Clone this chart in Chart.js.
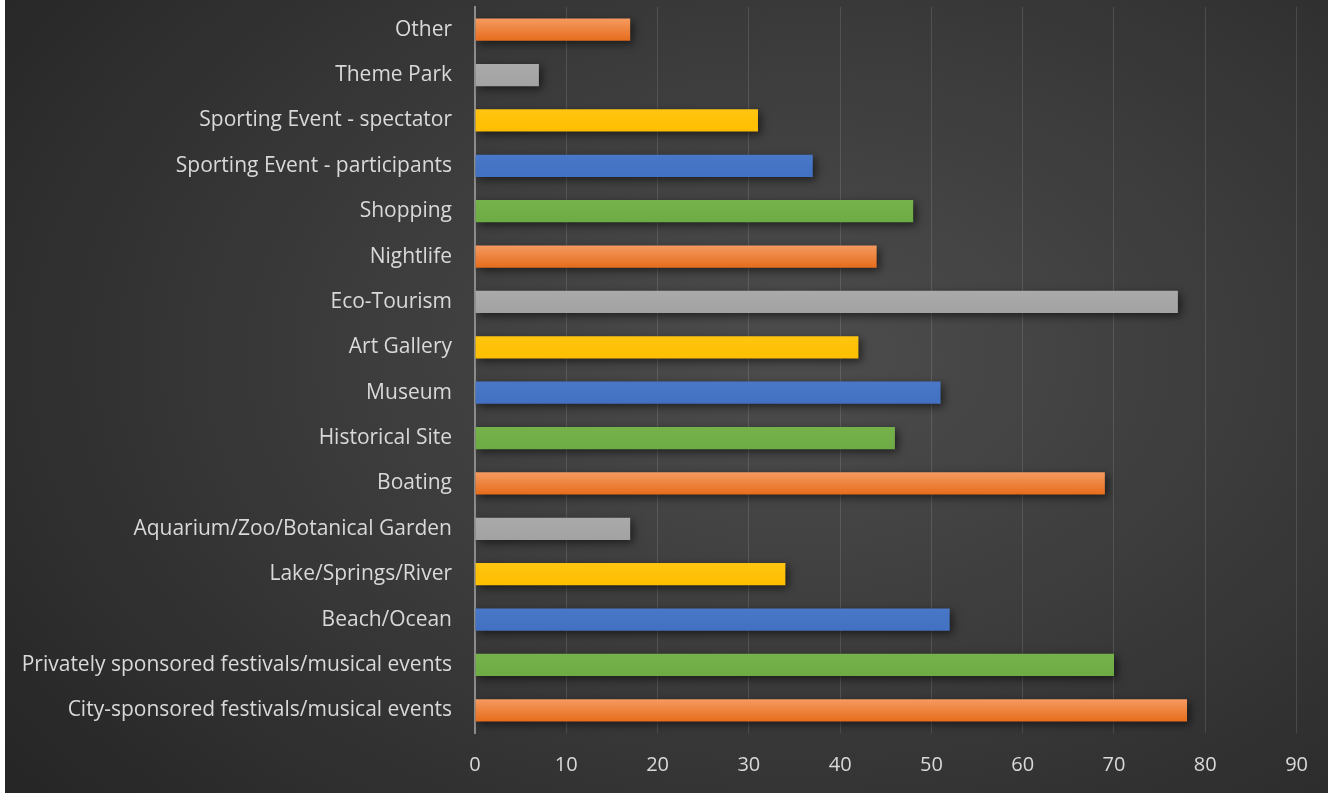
<!DOCTYPE html>
<html>
<head>
<meta charset="utf-8">
<script src="https://cdn.jsdelivr.net/npm/chart.js@4.4.1/dist/chart.umd.min.js"></script>
<style>
  html, body { margin: 0; padding: 0; background: #fff; }
  #wrap {
    position: absolute; left: 5px; top: 0; width: 1323px; height: 793px;
    background: radial-gradient(ellipse 75% 85% at 60% 45%, #4d4d4d 0%, #3a3a3a 50%, #262626 100%);
  }
  canvas { display: block; }
</style>
</head>
<body>
<div id="wrap"><canvas id="chart" width="1323" height="793"></canvas></div>
<script>
// categorias de cima para baixo
var categorias = [
    'Other', 'Theme Park', 'Sporting Event - spectator', 'Sporting Event - participants',
    'Shopping', 'Nightlife', 'Eco-Tourism', 'Art Gallery', 'Museum', 'Historical Site',
    'Boating', 'Aquarium/Zoo/Botanical Garden', 'Lake/Springs/River', 'Beach/Ocean',
    'Privately sponsored festivals/musical events', 'City-sponsored festivals/musical events'
];
var valores = [17, 7, 31, 37, 48, 44, 77, 42, 51, 46, 69, 17, 34, 52, 70, 78];
var coresBase = [
    ['#f59a60', '#e66d1c'], ['#aaaaaa', '#a2a2a2'], ['#ffc510', '#ffbe00'], ['#4a78c8', '#4270c2'],
    ['#76b24c', '#6dab44'], ['#f59a60', '#e66d1c'], ['#aaaaaa', '#a2a2a2'], ['#ffc510', '#ffbe00'],
    ['#4a78c8', '#4270c2'], ['#76b24c', '#6dab44'], ['#f59a60', '#e66d1c'], ['#aaaaaa', '#a2a2a2'],
    ['#ffc510', '#ffbe00'], ['#4a78c8', '#4270c2'], ['#76b24c', '#6dab44'], ['#f59a60', '#e66d1c']
];
var xTicks = [0, 10, 20, 30, 40, 50, 60, 70, 80, 90];

var textColor = '#d9d9d9';
var fonte = "'Open Sans', 'Liberation Sans', sans-serif";

// sombra nas barras
var sombraPlugin = {
    id: 'sombra',
    beforeDatasetDraw: function (chart) {
        var c = chart.ctx;
        c.save();
        c.shadowColor = 'rgba(0,0,0,0.55)';
        c.shadowBlur = 8;
        c.shadowOffsetX = 3;
        c.shadowOffsetY = 3;
    },
    afterDatasetDraw: function (chart) { chart.ctx.restore(); }
};

function corBarra(context) {
    var chart = context.chart;
    var i = context.dataIndex;
    var par = coresBase[i];
    if (!chart.chartArea) return par[0];
    var y = chart.scales.y.getPixelForValue(i);
    var h = 22;
    var g = chart.ctx.createLinearGradient(0, y - h / 2, 0, y + h / 2);
    g.addColorStop(0, par[0]);
    g.addColorStop(1, par[1]);
    return g;
}

new Chart(document.getElementById('chart'), {
    type: 'bar',
    data: {
        labels: categorias,
        datasets: [{ data: valores, backgroundColor: corBarra, borderWidth: 0, categoryPercentage: 1, barPercentage: 0.49 }]
    },
    plugins: [sombraPlugin],
    options: {
        responsive: false, animation: false, indexAxis: 'y',
        layout: { padding: { top: 7, right: 27, bottom: 12, left: 0 } },
        plugins: { legend: { display: false }, tooltip: { enabled: false } },
        scales: {
            x: {
                min: 0, max: 90,
                afterBuildTicks: function (s) { s.ticks = xTicks.map(function (v) { return { value: v }; }); },
                afterFit: function (s) { s.height = 48; },
                grid: {
                    drawTicks: false,
                    color: function (ctx) { return ctx.tick && ctx.tick.value === 0 ? 'rgba(0,0,0,0)' : 'rgba(255,255,255,0.12)'; },
                    lineWidth: 1
                },
                border: { display: false },
                ticks: { color: textColor, padding: 20, font: { family: fonte, size: 20 } }
            },
            y: {
                afterFit: function (s) { s.width = 470; s.paddingTop = 0; s.paddingBottom = 0; },
                grid: { display: false },
                border: { display: true, color: '#8c8c8c', width: 2 },
                ticks: { color: textColor, padding: 15, font: { family: fonte, size: 21 } }
            }
        }
    }
});
</script>
</body>
</html>
